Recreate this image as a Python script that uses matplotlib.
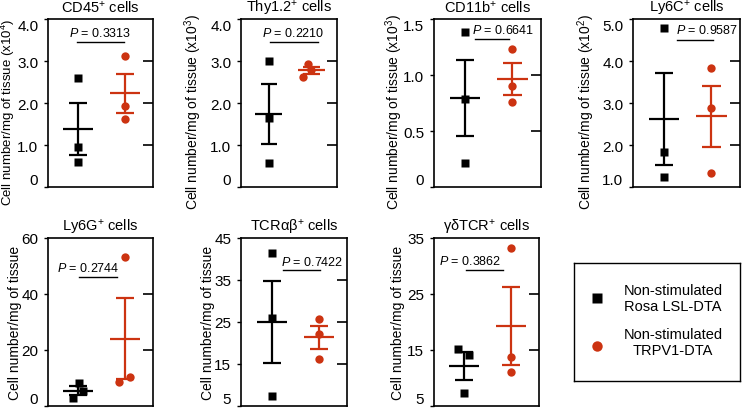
import numpy as np
import matplotlib
matplotlib.use("Agg")
import matplotlib.pyplot as plt

plt.rcParams['font.family'] = ['Liberation Sans', 'DejaVu Sans']
plt.rcParams['mathtext.fontset'] = 'custom'
plt.rcParams['mathtext.rm'] = 'Liberation Sans'
plt.rcParams['mathtext.it'] = 'Liberation Sans:italic'

# data
titles = ['CD45$^{+}$ cells', 'Thy1.2$^{+}$ cells', 'CD11b$^{+}$ cells', 'Ly6C$^{+}$ cells',
          'Ly6G$^{+}$ cells', 'TCRαβ$^{+}$ cells', 'γδTCR$^{+}$ cells']
exponents = ['4', '3', '3', '2', None, None, None]
rosa = [[2.60, 0.96, 0.60],
        [3.00, 1.65, 0.56],
        [1.38, 0.786, 0.214],
        [4.78, 1.83, 1.25],
        [8.3, 5.4, 2.9],
        [41.4, 25.9, 7.5],
        [15.1, 14.1, 7.3]]
trpv1 = [[3.12, 1.94, 1.62],
         [2.93, 2.78, 2.62],
         [1.232, 0.899, 0.762],
         [3.83, 2.87, 1.34],
         [53.2, 8.7, 10.4],
         [25.7, 22.1, 16.2],
         [33.2, 13.75, 11.0]]
p_values = ['0.3313', '0.2210', '0.6641', '0.9587', '0.2744', '0.7422', '0.3862']
yticks = [[0, 1, 2, 3, 4], [0, 1, 2, 3, 4], [0, 0.5, 1.0, 1.5], [1, 2, 3, 4, 5],
          [0, 20, 40, 60], [5, 15, 25, 35, 45], [5, 15, 25, 35]]
ytick_labels = [['0', '1.0', '2.0', '3.0', '4.0'], ['0', '1.0', '2.0', '3.0', '4.0'],
                ['0', '0.5', '1.0', '1.5'], ['1.0', '2.0', '3.0', '4.0', '5.0'],
                ['0', '20', '40', '60'], ['5', '15', '25', '35', '45'], ['5', '15', '25', '35']]

# layout (pixels of the 742x410 picture)
boxes = [(48, 20, 153, 188), (241, 20, 337, 188), (434, 20, 541, 188), (633, 20, 740, 188),
         (48, 239, 153, 407), (241, 239, 347, 407), (434, 239, 539, 407)]
label_x = [17, 204, 405, 597, 22, 215, 405]   # right edge of the rotated y label
label_size = [9.5, 10, 10, 10, 10, 10, 10]
# P bracket: x from, x to, y of line, text x, text y (data units)
brackets = [(0.97, 1.98, 3.45, 1.46, 3.69),
            (1.03, 2.15, 3.45, 1.57, 3.69),
            (1.21, 1.93, 1.32, 1.80, 1.41),
            (1.27, 2.03, 4.50, 1.90, 4.76),
            (1.01, 1.83, 46.1, 1.21, 49.6),
            (1.24, 2.03, 37.4, 1.86, 39.5),
            (1.03, 1.82, 29.3, 1.12, 30.9)]
rosa_jit = [[0, 0, 0], [0, 0, 0], [0, 0, 0], [0, 0, 0],
            [0.02, 0.09, -0.11], [0, 0, 0], [-0.13, 0.11, 0]]
trpv1_jit = [[0, 0, 0], [-0.09, 0.0, -0.2], [0, 0, 0], [0, 0, 0],
             [0, -0.13, 0.11], [0, 0, 0], [0, 0, 0]]

red = '#cc3311'
W, H = 742, 410
fig = plt.figure(figsize=(W / 100, H / 100), dpi=100)

for i in range(7):
    x0, y0, x1, y1 = boxes[i]
    ax = fig.add_axes([x0 / W, 1 - y1 / H, (x1 - x0) / W, (y1 - y0) / H])
    ax.set_xlim(0.35, 2.6)
    ax.set_ylim(yticks[i][0], yticks[i][-1])

    groups = [(rosa[i], rosa_jit[i], 1, 'k', 's', 5.2), (trpv1[i], trpv1_jit[i], 2, red, 'o', 6)]
    for vals, jit, xc, col, mk, ms in groups:
        vals = np.array(vals)
        ax.plot(xc + np.array(jit), vals, ls='none', marker=mk, color=col, ms=ms,
                mec='none', clip_on=False, zorder=3)
        m = vals.mean()
        sem = vals.std(ddof=1) / np.sqrt(len(vals))
        ax.hlines(m, xc - 0.32, xc + 0.32, color=col, lw=1.6, zorder=4)
        ax.hlines([m - sem, m + sem], xc - 0.19, xc + 0.19, color=col, lw=1.6, zorder=4)
        ax.vlines(xc, m - sem, m + sem, color=col, lw=1.6, zorder=4)

    bx1, bx2, by, tx, ty = brackets[i]
    ax.plot([bx1, bx2], [by, by], color='k', lw=1)
    ax.text(tx, ty, '$P$ = ' + p_values[i], ha='center', va='center', fontsize=9)

    ax.set_xticks([])
    ax.set_yticks(yticks[i])
    ax.set_yticklabels(ytick_labels[i])
    ax.tick_params(axis='y', direction='out', length=3, width=1, labelsize=11, pad=4)
    labs = ax.get_yticklabels()
    labs[0].set_va('bottom')
    if i < 4:
        labs[-1].set_va('top')
    for s in ax.spines.values():
        s.set_linewidth(1.2)

    ax2 = ax.twinx()
    ax2.set_ylim(ax.get_ylim())
    ax2.set_yticks(yticks[i][1:-1])
    ax2.tick_params(axis='y', direction='in', length=7, width=1.2, labelright=False)
    for s in ax2.spines.values():
        s.set_visible(False)

    ax.set_title(titles[i], fontsize=10.5, pad=5)
    lab = 'Cell number/mg of tissue'
    ly = 0.5
    if exponents[i]:
        lab += ' (x10$^{' + exponents[i] + '}$)'
        ly = 0.45
    ax.set_ylabel(lab, fontsize=label_size[i])
    ax.yaxis.set_label_coords((label_x[i] - x0) / (x1 - x0), ly)

# legend box
lx0, ly0, lx1, ly1 = 574, 264, 740, 382
lax = fig.add_axes([lx0 / W, 1 - ly1 / H, (lx1 - lx0) / W, (ly1 - ly0) / H])
lax.set_xlim(lx0, lx1)
lax.set_ylim(ly1, ly0)
lax.set_xticks([])
lax.set_yticks([])
for s in lax.spines.values():
    s.set_linewidth(1)
lax.plot([597], [299], marker='s', color='k', ms=7, mec='none')
lax.plot([597], [347], marker='o', color=red, ms=7.5, mec='none')
lax.text(673, 299, 'Non-stimulated\nRosa LSL-DTA', ha='center', va='center',
         fontsize=10.5, linespacing=1.1)
lax.text(673, 343, 'Non-stimulated\nTRPV1-DTA', ha='center', va='center',
         fontsize=10.5, linespacing=1.1)

fig.savefig('out.png', dpi=100)
